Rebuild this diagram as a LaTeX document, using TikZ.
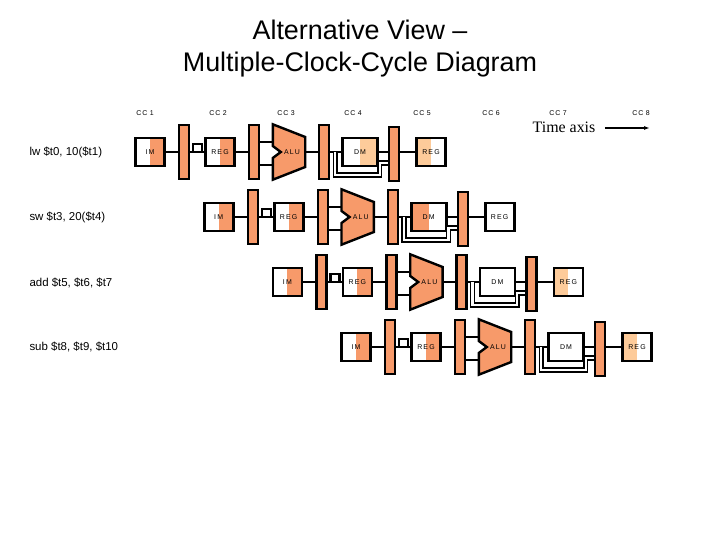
\documentclass[tikz,border=0pt]{standalone}
\usepackage{fontspec}
\setmainfont{Liberation Sans}
\newfontfamily\serifface{Liberation Serif}
\usetikzlibrary{calc,arrows.meta}
\definecolor{org}{HTML}{F79A6A}
\definecolor{pch}{HTML}{FDCB9A}
\begin{document}
\begin{tikzpicture}[x=1bp,y=-1bp,
  w/.style={line width=2.4bp,black},
  box/.style={draw,line width=2.6bp,minimum width=29bp,minimum height=28bp,inner sep=0pt,font=\fontsize{7}{8}\selectfont},
  halfR/.style={path picture={\fill[#1] (path picture bounding box.south) rectangle (path picture bounding box.north east);}},
  halfL/.style={path picture={\fill[#1] (path picture bounding box.south west) rectangle (path picture bounding box.north);}},
  fRp/.style={halfR=pch}, fLo/.style={halfL=org}, fLp/.style={halfL=pch}, fN/.style={},
  bar/.style={draw,fill=org,line width=2.4bp,minimum width=10bp,minimum height=54bp,inner sep=0pt},
  aluN/.style={minimum width=32bp,minimum height=55bp,inner sep=0pt,font=\fontsize{7}{8}\selectfont},
  cc/.style={font=\fontsize{7}{8}\selectfont},
  lab/.style={font=\fontsize{11.5}{13}\selectfont,anchor=west}
]
\useasboundingbox (0,0) rectangle (720,540);
\node (t1) at (360,30) {\fontsize{27}{30}\selectfont Alternative View –};
\node (t2) at (360,65) {\fontsize{27}{30}\selectfont Multiple-Clock-Cycle Diagram};
\foreach \n/\x in {1/145,2/218,3/286,4/353,5/422,6/491,7/558,8/641}
  \node[cc] (cc\n) at (\x,113) {C\,C\,\,\n};
\node[font=\serifface\fontsize{16}{18}\selectfont] (ta) at (564,127) {Time axis};
\coordinate (taend) at (650,128);
\draw[line width=1.6bp,-{Latex[length=6bp,width=4bp]}] ($(ta.east)+(6,1)$) -- (taend);
\node[lab] (l1) at (26,152) {lw \$t0, 10(\$t1)};
\node[lab] (l2) at (26,217) {sw \$t3, 20(\$t4)};
\node[lab] (l3) at (26,283) {add \$t5, \$t6, \$t7};
\node[lab] (l4) at (26,347) {sub \$t8, \$t9, \$t10};
\foreach \r/\sx/\sy/\dm/\wb in {1/150/152/fRp/fLp,2/218.7/217/fLo/fN,3/287.4/282/fN/fLp,4/356/347/fN/fLp}{
  \node[box,halfR=org] (im\r) at (\sx,\sy) {I\,M};
  \node[bar] (ba\r) at (\sx+34,\sy) {};
  \node[box,halfR=org] (rg\r) at (\sx+70,\sy) {R\,E\,G};
  \node[bar] (bb\r) at (\sx+104,\sy) {};
  \node[aluN] (al\r) at (\sx+139,\sy) {};
  \node[bar] (bc\r) at (\sx+174,\sy) {};
  \node[box,minimum width=35bp,\dm] (dm\r) at (\sx+210,\sy) {D\,M};
  \node[bar] (bd\r) at (\sx+244,\sy+2) {};
  \node[box,\wb] (wb\r) at (\sx+281,\sy) {R\,E\,G};
  \fill[org,draw=black,line width=2.4bp,line join=miter]
    (al\r.north west) -- ($(al\r.east)+(0,-15)$) -- ($(al\r.east)+(0,15)$) -- (al\r.south west)
    -- ($(al\r.west)+(0,6)$) -- ($(al\r.west)+(8,0)$) -- ($(al\r.west)+(0,-6)$) -- cycle;
  \node[aluN] at (al\r) {\hspace{6bp}A\,L\,U};
  \draw[w] (im\r.east) -- (ba\r.west |- im\r.east);
  \draw[w] (ba\r.east |- rg\r.west) -- (rg\r.west);
  \draw[w] ($(ba\r.east |- rg\r.west)+(3,0)$) -- ++(0,-8) -- ++(9,0) -- ++(0,8);
  \draw[w] (rg\r.east) -- (bb\r.west |- rg\r.east);
  \draw[w] ($(bb\r.east |- al\r.west)+(0,-10)$) -- ($(al\r.west)+(0,-10)$);
  \draw[w] ($(bb\r.east |- al\r.west)+(0,13)$) -- ($(al\r.west)+(0,13)$);
  \draw[w] (al\r.east) -- (bc\r.west |- al\r.east);
  \draw[w] (bc\r.east |- dm\r.west) -- (dm\r.west);
  \draw[w] (dm\r.east) -- (bd\r.west |- dm\r.east);
  \draw[w] (bd\r.east |- wb\r.west) -- (wb\r.west);
  \draw[line width=1.4bp,double=white,double distance=2.4bp]
    ($(bc\r.east |- dm\r.west)+(5,0)$) -- ++(0,23) -- ($(bd\r.west |- dm\r.west)+(-8,23)$) -- ++(0,-12) -- ($(bd\r.west |- dm\r.west)+(0,11)$);
}
\end{tikzpicture}
\end{document}
